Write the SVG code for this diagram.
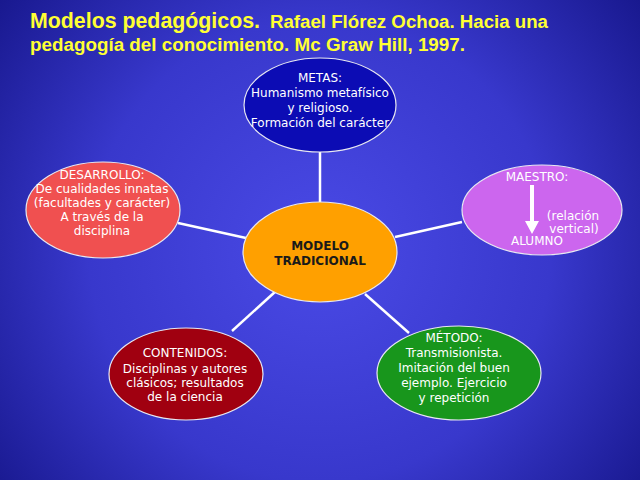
<svg xmlns="http://www.w3.org/2000/svg" width="640" height="480" viewBox="0 0 640 480">
<defs>
<radialGradient id="bg" cx="320" cy="250" r="420" gradientUnits="userSpaceOnUse">
<stop offset="0" stop-color="#4a4ae6"/>
<stop offset="0.55" stop-color="#3838cc"/>
<stop offset="1" stop-color="#16168a"/>
</radialGradient>
<style>
.t{font-family:"DejaVu Sans","Liberation Sans",sans-serif;fill:#fff;text-anchor:middle;font-size:12px}
.b{font-weight:bold;fill:#1a1a1a}
.e{stroke:#e8e8f0;stroke-width:1.2}
.c line{stroke:#fff;stroke-width:2.5}
.title{font-family:"Liberation Sans",Arial,sans-serif;font-weight:bold;fill:#ffff33}
</style>
</defs>
<rect width="640" height="480" fill="url(#bg)"/>
<text class="title" x="30" y="28"><tspan font-size="22" textLength="230" lengthAdjust="spacingAndGlyphs">Modelos pedagógicos.</tspan><tspan x="270" font-size="18" textLength="278" lengthAdjust="spacingAndGlyphs">Rafael Flórez Ochoa. Hacia una</tspan></text>
<text class="title" x="30" y="51" font-size="18" textLength="435" lengthAdjust="spacingAndGlyphs">pedagogía del conocimiento. Mc Graw Hill, 1997.</text>
<g class="c" id="connectors">
<line x1="320" y1="151" x2="320" y2="203"/>
<line x1="178" y1="223" x2="246" y2="238"/>
<line x1="462" y1="222" x2="395" y2="237"/>
<line x1="276" y1="291" x2="232" y2="331"/>
<line x1="365" y1="294" x2="409" y2="333"/>
</g>
<g id="metas">
<ellipse class="e" cx="320" cy="105" rx="76" ry="47" fill="#0c0cb4"/>
<text class="t" x="320" y="82">METAS:</text>
<text class="t" x="320" y="97">Humanismo metafísico</text>
<text class="t" x="320" y="112">y religioso.</text>
<text class="t" x="320" y="127">Formación del carácter</text>
</g>
<g id="centro">
<ellipse class="e" cx="320" cy="252" rx="77" ry="50" fill="#ffa000"/>
<text class="t b" x="320" y="250">MODELO</text>
<text class="t b" x="320" y="265">TRADICIONAL</text>
</g>
<g id="desarrollo">
<ellipse class="e" cx="103" cy="210" rx="77" ry="48" fill="#f05050"/>
<text class="t" x="102" y="179">DESARROLLO:</text>
<text class="t" x="102" y="193">De cualidades innatas</text>
<text class="t" x="102" y="207">(facultades y carácter)</text>
<text class="t" x="102" y="221">A través de la</text>
<text class="t" x="102" y="235">disciplina</text>
</g>
<g id="maestro">
<ellipse class="e" cx="542" cy="210" rx="80" ry="45" fill="#cc66ee"/>
<text class="t" x="537" y="181">MAESTRO:</text>
<path d="M530 185 H534 V221 H539 L532 234 L525 221 H530 Z" fill="#fff"/>
<text class="t" x="573" y="220" font-size="11.5">(relación</text>
<text class="t" x="574" y="232.5" font-size="11.5">vertical)</text>
<text class="t" x="537" y="245" font-size="11.5">ALUMNO</text>
</g>
<g id="contenidos">
<ellipse class="e" cx="186" cy="374" rx="77" ry="46" fill="#a00010"/>
<text class="t" x="185" y="357">CONTENIDOS:</text>
<text class="t" x="185" y="373">Disciplinas y autores</text>
<text class="t" x="185" y="387">clásicos; resultados</text>
<text class="t" x="185" y="401">de la ciencia</text>
</g>
<g id="metodo">
<ellipse class="e" cx="459" cy="373" rx="82" ry="47" fill="#18961c"/>
<text class="t" x="454" y="342">MÉTODO:</text>
<text class="t" x="454" y="357">Transmisionista.</text>
<text class="t" x="454" y="372">Imitación del buen</text>
<text class="t" x="454" y="387">ejemplo. Ejercicio</text>
<text class="t" x="454" y="402">y repetición</text>
</g>
</svg>
